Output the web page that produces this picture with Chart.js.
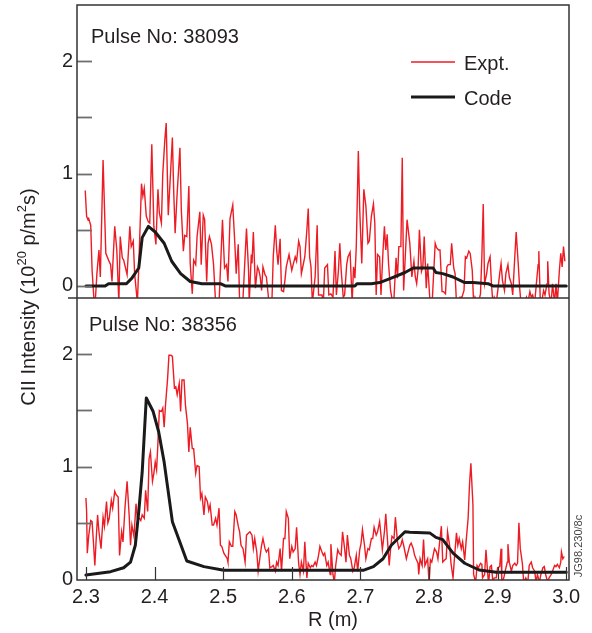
<!DOCTYPE html>
<html><head><meta charset="utf-8">
<script src="https://cdn.jsdelivr.net/npm/chart.js@4.4.1/dist/chart.umd.min.js"></script>
<style>html,body{margin:0;padding:0;background:#fff;}#wrap{width:592px;height:633px;position:relative;}</style>
</head><body><div id="wrap"><canvas id="c" width="592" height="633"></canvas></div>
<script>
// ---- data ----
const R_MIN = 2.287, R_MAX = 3.004;
const X_TICKS = [2.3, 2.4, 2.5, 2.6, 2.7, 2.8, 2.9, 3.0];
const Y_TICKS = [0, 0.5, 1, 1.5, 2];
const Y_LABELS = [0, 1, 2];
const TOP_Y_RANGE = [-0.107, 2.5];
const BOT_Y_RANGE = [-0.009, 2.5];
const PANEL_TITLES = ['Pulse No: 38093', 'Pulse No: 38356'];
const SERIES_NAMES = ['Expt.', 'Code'];

const TOP_EXPT = [[2.299,0.85],[2.301,0.62],[2.303,0.59],[2.304,0.60],[2.307,0.54],[2.309,0.14],[2.312,-0.15],[2.314,-0.10],[2.316,0.11],[2.319,0.32],[2.321,0.08],[2.325,1.12],[2.329,0.29],[2.333,0.23],[2.336,0.19],[2.338,0.04],[2.342,0.53],[2.345,0.32],[2.348,-0.15],[2.350,0.44],[2.353,0.25],[2.355,0.23],[2.360,0.10],[2.364,0.53],[2.366,0.35],[2.369,0.40],[2.371,0.11],[2.375,-0.15],[2.377,0.17],[2.381,0.91],[2.383,0.80],[2.385,0.87],[2.388,0.62],[2.391,0.57],[2.393,0.56],[2.396,1.26],[2.399,0.53],[2.402,0.37],[2.405,0.86],[2.407,0.65],[2.410,0.56],[2.412,1.00],[2.415,1.30],[2.417,1.45],[2.420,0.63],[2.423,0.97],[2.426,1.32],[2.428,0.83],[2.430,0.47],[2.433,0.83],[2.437,1.23],[2.439,0.68],[2.442,0.31],[2.444,0.45],[2.447,0.44],[2.450,0.89],[2.452,0.20],[2.455,-0.07],[2.457,0.23],[2.460,0.19],[2.462,0.44],[2.466,0.66],[2.468,0.19],[2.471,0.63],[2.473,0.59],[2.476,0.04],[2.478,0.38],[2.480,0.44],[2.483,0.37],[2.486,0.19],[2.489,-0.15],[2.491,-0.15],[2.494,-0.15],[2.496,0.14],[2.499,0.59],[2.502,0.16],[2.505,0.19],[2.507,0.04],[2.510,0.60],[2.514,0.72],[2.517,0.38],[2.519,0.11],[2.522,0.37],[2.524,-0.15],
[2.529,-0.10],[2.534,0.51],[2.537,0.14],[2.538,-0.15],[2.541,0.28],[2.542,0.20],[2.544,0.48],[2.547,-0.02],[2.550,0.17],[2.552,0.14],[2.554,0.08],[2.556,-0.04],[2.558,0.17],[2.561,0.10],[2.563,0.08],[2.566,-0.10],[2.568,-0.15],[2.571,-0.15],[2.573,0.26],[2.576,0.54],[2.578,0.32],[2.580,0.19],[2.583,0.42],[2.585,-0.04],[2.588,-0.05],[2.590,0.05],[2.592,0.17],[2.596,0.28],[2.600,0.14],[2.602,0.19],[2.605,0.26],[2.607,0.22],[2.610,0.40],[2.612,0.35],[2.614,0.11],[2.617,0.20],[2.619,0.26],[2.622,0.50],[2.624,0.69],[2.626,0.26],[2.628,0.17],[2.630,-0.15],[2.634,0.08],[2.637,0.54],[2.639,-0.08],[2.641,-0.08],[2.644,-0.08],[2.646,-0.15],[2.648,0.16],[2.652,0.19],[2.654,-0.08],[2.657,-0.07],[2.660,-0.10],[2.663,0.31],[2.665,-0.08],[2.668,0.14],[2.670,0.38],[2.672,0.14],[2.675,-0.10],[2.677,-0.08],[2.680,0.19],[2.682,0.26],[2.685,0.30],[2.688,-0.15],[2.690,0.17],[2.692,0.07],[2.694,0.35],[2.697,1.20],[2.699,0.68],[2.702,0.20],[2.705,0.86],[2.708,0.71],[2.711,0.38],[2.713,0.40],[2.716,0.62],[2.719,0.73],[2.721,0.56],[2.723,-0.08],[2.725,0.28],[2.728,0.26],[2.730,-0.08],[2.733,0.32],[2.735,0.53],[2.737,0.32],[2.739,0.46],[2.741,0.20],[2.744,-0.04],[2.747,-0.15],[2.749,-0.10],[2.752,0.25],[2.754,0.07],[2.756,0.35],[2.759,0.35],[2.761,1.14],
[2.763,-0.04],[2.768,0.59],[2.772,0.38],[2.775,0.08],[2.778,0.22],[2.780,0.08],[2.782,0.02],[2.784,0.14],[2.786,0.50],[2.789,0.13],[2.791,0.17],[2.793,0.44],[2.796,-0.02],[2.798,0.20],[2.801,-0.10],[2.803,-0.15],[2.805,-0.10],[2.809,0.38],[2.811,0.34],[2.814,0.32],[2.816,0.32],[2.819,-0.05],[2.821,-0.05],[2.824,-0.07],[2.826,0.17],[2.828,0.19],[2.831,0.19],[2.833,0.38],[2.836,0.16],[2.838,0.11],[2.840,-0.15],[2.843,-0.15],[2.845,-0.10],[2.848,-0.10],[2.851,-0.04],[2.853,0.26],[2.855,0.25],[2.858,0.31],[2.860,0.29],[2.863,0.14],[2.865,-0.15],[2.867,-0.10],[2.870,-0.15],[2.872,-0.15],[2.875,-0.07],[2.877,0.26],[2.879,0.73],[2.881,0.02],[2.884,0.11],[2.886,0.20],[2.889,0.26],[2.891,0.02],[2.893,-0.15],[2.895,-0.10],[2.898,-0.15],[2.900,-0.05],[2.903,0.11],[2.905,0.20],[2.907,0.05],[2.910,-0.04],[2.912,0.11],[2.915,0.19],[2.917,0.08],[2.920,0.02],[2.922,-0.08],[2.925,0.26],[2.927,0.48],[2.930,0.20],[2.932,-0.01],[2.934,-0.15],[2.937,-0.15],[2.939,-0.15],[2.942,-0.10],[2.944,-0.15],[2.947,-0.05],[2.949,-0.10],[2.951,-0.08],[2.954,-0.15],[2.956,-0.01],[2.959,0.19],[2.960,0.31],[2.962,-0.10],[2.964,-0.15],[2.967,-0.04],[2.969,-0.08],[2.972,0.02],[2.973,0.22],[2.975,-0.07],[2.978,-0.15],[2.980,0.02],[2.983,-0.15],[2.985,0.02],[2.987,-0.15],[2.990,0.14],[2.992,0.29],[2.994,0.17],[2.996,0.35],[2.998,0.22]];

const TOP_CODE = [[2.300,0],[2.328,0],[2.333,0.02],[2.359,0.02],[2.367,0.07],[2.377,0.16],[2.382,0.43],[2.391,0.53],[2.401,0.48],[2.414,0.38],[2.425,0.22],[2.438,0.11],[2.452,0.04],[2.469,0.02],[2.496,0.02],[2.503,0],[2.692,0],[2.695,0.02],[2.716,0.02],[2.728,0.03],[2.745,0.07],[2.765,0.12],[2.777,0.16],[2.806,0.16],[2.810,0.12],[2.820,0.11],[2.835,0.08],[2.852,0.03],[2.864,0.03],[2.886,0.02],[2.893,0],[3.000,0]];

const BOT_EXPT = [[2.300,0.72],[2.301,0.60],[2.302,0.23],[2.304,0.38],[2.307,0.52],[2.309,0.51],[2.311,0.32],[2.313,0.12],[2.315,0.36],[2.317,0.57],[2.319,0.42],[2.322,0.27],[2.325,0.55],[2.327,0.47],[2.330,0.69],[2.332,0.50],[2.334,0.54],[2.337,0.70],[2.339,0.63],[2.342,0.78],[2.344,0.75],[2.347,0.73],[2.349,0.21],[2.352,0.42],[2.354,0.33],[2.357,0.64],[2.360,0.87],[2.363,0.57],[2.365,0.30],[2.367,0.48],[2.370,0.38],[2.373,0.67],[2.375,0.54],[2.378,0.54],[2.380,0.52],[2.382,0.57],[2.385,0.54],[2.387,0.79],[2.390,0.60],[2.392,1.07],[2.394,1.13],[2.397,0.87],[2.399,0.94],[2.401,1.04],[2.403,0.97],[2.405,1.22],[2.407,1.50],[2.410,1.49],[2.412,1.52],[2.414,1.35],[2.416,1.55],[2.419,1.78],[2.421,1.99],[2.424,1.99],[2.426,1.98],[2.429,1.70],[2.431,1.71],[2.433,1.64],[2.436,1.74],[2.438,1.49],[2.440,1.77],[2.443,1.77],[2.445,1.55],[2.448,1.38],[2.450,1.13],[2.452,1.35],[2.455,1.16],[2.457,1.16],[2.460,0.94],[2.462,1.01],[2.465,1.00],[2.467,0.72],[2.469,0.76],[2.472,0.57],[2.474,0.73],[2.477,0.69],[2.479,0.61],[2.481,0.66],[2.484,0.48],[2.486,0.48],[2.489,0.54],[2.491,0.48],[2.494,0.63],[2.496,0.30],[2.498,0.29],[2.501,0.23],[2.503,0.21],[2.506,0.18],[2.507,0.15],[2.509,0.33],[2.512,0.29],[2.514,0.29],[2.517,0.60],[2.519,0.57],[2.522,0.47],[2.524,0.42],[2.526,0.30],
[2.529,0.27],[2.532,0.15],[2.534,0.39],[2.537,0.41],[2.539,0.42],[2.542,0.39],[2.544,0.27],[2.546,0.36],[2.549,0.24],[2.551,0.07],[2.554,0.21],[2.556,0.30],[2.558,0.36],[2.561,0.27],[2.563,0.24],[2.566,0.27],[2.568,0.10],[2.571,0.11],[2.573,0.12],[2.576,0.07],[2.578,0.15],[2.580,0.12],[2.583,0.27],[2.585,0.07],[2.588,0.36],[2.590,0.36],[2.592,0.60],[2.595,0.54],[2.597,0.18],[2.600,0.29],[2.602,0.24],[2.605,0.27],[2.607,0.46],[2.610,0.14],[2.612,0.04],[2.614,0.15],[2.617,0.07],[2.619,0.33],[2.622,0.01],[2.624,0.14],[2.627,0.10],[2.629,0.12],[2.631,0.11],[2.634,0.15],[2.636,0.12],[2.639,0.21],[2.641,0.29],[2.644,0.24],[2.646,0.21],[2.648,0.23],[2.651,0.12],[2.653,0.15],[2.656,0.04],[2.657,0.31],[2.660,0.04],[2.662,-0.03],[2.664,0.12],[2.667,0.26],[2.669,0.23],[2.672,0.21],[2.674,0.42],[2.677,0.27],[2.679,0.15],[2.681,0.39],[2.684,0.21],[2.686,0.18],[2.689,0.07],[2.691,0.10],[2.694,0.21],[2.696,0.07],[2.699,0.26],[2.701,0.32],[2.703,0.44],[2.706,0.30],[2.708,0.18],[2.711,0.27],[2.713,0.26],[2.716,0.36],[2.718,0.36],[2.720,0.46],[2.723,0.39],[2.725,0.42],[2.728,0.51],[2.730,0.39],[2.732,0.26],[2.735,0.42],[2.737,0.58],[2.739,0.39],[2.742,0.12],[2.744,0.27],[2.746,0.38],[2.749,0.36],[2.751,0.55],[2.754,0.33],[2.756,0.27],[2.759,0.30],[2.761,0.35],[2.763,0.30],
[2.767,0.18],[2.769,0.23],[2.772,0.30],[2.774,0.32],[2.777,0.27],[2.779,0.21],[2.781,0.18],[2.784,0.14],[2.785,0.04],[2.787,0.18],[2.790,0.12],[2.792,0.35],[2.794,0.12],[2.796,0.15],[2.798,0.18],[2.800,-0.03],[2.802,0.17],[2.804,0.15],[2.806,0.21],[2.808,0.27],[2.811,0.24],[2.813,0.18],[2.815,0.30],[2.818,0.47],[2.820,0.15],[2.823,0.17],[2.825,0.18],[2.827,0.42],[2.830,0.30],[2.832,0.14],[2.835,0.01],[2.837,0.18],[2.840,0.41],[2.842,0.30],[2.844,0.36],[2.847,0.27],[2.849,0.33],[2.852,0.17],[2.854,0.33],[2.857,0.54],[2.859,0.84],[2.861,1.03],[2.864,0.66],[2.865,0.04],[2.868,-0.03],[2.870,0.12],[2.872,0.10],[2.875,0.14],[2.877,0.13],[2.878,0.01],[2.881,0.04],[2.883,0.26],[2.886,0.01],[2.887,-0.03],[2.889,0.11],[2.891,0.12],[2.893,-0.03],[2.895,0.01],[2.898,0.01],[2.900,0.10],[2.903,0.11],[2.905,0.27],[2.906,-0.03],[2.909,0.01],[2.911,0.07],[2.914,0.15],[2.915,0.31],[2.917,0.15],[2.920,0.07],[2.922,0.12],[2.925,0.14],[2.927,0.12],[2.929,0.14],[2.931,0.50],[2.933,0.27],[2.936,0.14],[2.938,-0.03],[2.941,0.01],[2.944,-0.03],[2.946,0.12],[2.949,0.15],[2.951,0.10],[2.954,0.07],[2.956,-0.03],[2.958,0.04],[2.961,-0.03],[2.963,0.04],[2.966,0.10],[2.968,0.11],[2.970,0.04],[2.973,-0.03],[2.975,0.01],[2.978,0.04],[2.980,0.07],[2.983,0.12],[2.985,0.11],[2.987,0.13],[2.990,0.10],[2.992,0.15],[2.993,0.24],[2.995,0.18],[2.997,0.20]];

const BOT_CODE = [[2.300,0.035],[2.336,0.065],[2.355,0.10],[2.365,0.15],[2.372,0.30],[2.377,0.60],[2.382,0.95],[2.388,1.61],[2.398,1.49],[2.406,1.31],[2.414,1.04],[2.426,0.51],[2.435,0.36],[2.447,0.16],[2.472,0.11],[2.501,0.077],[2.704,0.077],[2.719,0.11],[2.733,0.18],[2.745,0.30],[2.765,0.42],[2.772,0.415],[2.801,0.41],[2.810,0.37],[2.820,0.35],[2.835,0.23],[2.852,0.14],[2.873,0.08],[2.898,0.06],[3.000,0.06]];

// ---- styling ----
const FONT = '"Liberation Sans", Arial, Helvetica, sans-serif';
const TXT = '#231f20';
const RED = '#ed1c24';
const BLK = '#1a1a1a';
const toXY = a => a.map(p => ({x: p[0], y: p[1]}));

const decor = {
  id: 'decor',
  beforeDatasetDraw(chart, args) {
    const ys = chart.scales[args.meta.yAxisID];
    const ca = chart.chartArea, ctx = chart.ctx;
    ctx.save();
    ctx.beginPath();
    ctx.rect(ca.left, ys.top, ca.right - ca.left, ys.bottom - ys.top);
    ctx.clip();
  },
  afterDatasetDraw(chart) { chart.ctx.restore(); },
  afterDraw(chart) {
    const ctx = chart.ctx, ca = chart.chartArea;
    const xs = chart.scales.x, yt = chart.scales.yTop, yb = chart.scales.yBot;
    ctx.save();
    // inward y ticks
    ctx.strokeStyle = '#6d6e70'; ctx.lineWidth = 1.8;
    [yt, yb].forEach(s => Y_TICKS.forEach(v => {
      const y = Math.round(s.getPixelForValue(v)) + 0.5;
      if (y > s.bottom - 1) return;
      ctx.beginPath(); ctx.moveTo(ca.left, y); ctx.lineTo(ca.left + 15, y); ctx.stroke();
    }));
    // inward x ticks (bottom panel)
    ctx.strokeStyle = '#333'; ctx.lineWidth = 1.2;
    X_TICKS.forEach(v => {
      const x = Math.round(xs.getPixelForValue(v)) + 0.5;
      ctx.beginPath(); ctx.moveTo(x, ca.bottom); ctx.lineTo(x, ca.bottom - 13); ctx.stroke();
    });
    // frame and divider
    ctx.strokeStyle = '#333'; ctx.lineWidth = 1.5;
    ctx.strokeRect(ca.left, ca.top, ca.right - ca.left, ca.bottom - ca.top);
    ctx.beginPath(); ctx.moveTo(ca.left - 9, yt.bottom); ctx.lineTo(ca.right, yt.bottom); ctx.stroke();
    // panel titles
    ctx.fillStyle = TXT; ctx.font = '20px ' + FONT; ctx.textBaseline = 'middle'; ctx.textAlign = 'left';
    ctx.fillText(PANEL_TITLES[0], 91, 37);
    ctx.fillText(PANEL_TITLES[1], 89, 325);
    // legend
    const ds = chart.data.datasets;
    [[ds[1], 62], [ds[0], 97]].forEach(([d, y]) => {
      ctx.strokeStyle = d.borderColor; ctx.lineWidth = d.borderWidth;
      ctx.beginPath(); ctx.moveTo(411, y); ctx.lineTo(455, y); ctx.stroke();
      ctx.fillText(d.label, 464, y + 2);
    });
    // x title
    ctx.textAlign = 'center';
    ctx.fillText('R (m)', 333, 620);
    // y title with superscripts
    ctx.save();
    ctx.translate(28, 297); ctx.rotate(-Math.PI / 2);
    const parts = [['CII Intensity (10', 0], ['20', 1], [' p/m', 0], ['2', 1], ['s)', 0]];
    let total = 0;
    parts.forEach(p => { ctx.font = (p[1] ? '13px ' : '20px ') + FONT; total += ctx.measureText(p[0]).width; });
    let cx = -total / 2;
    ctx.textAlign = 'left';
    parts.forEach(p => {
      ctx.font = (p[1] ? '13px ' : '20px ') + FONT;
      ctx.fillText(p[0], cx, p[1] ? -6 : 1);
      cx += ctx.measureText(p[0]).width;
    });
    ctx.restore();
    // figure code
    ctx.save();
    ctx.translate(579, 546); ctx.rotate(-Math.PI / 2);
    ctx.font = '11px ' + FONT; ctx.fillStyle = '#444'; ctx.textAlign = 'center';
    ctx.fillText('JG98.230/8c', 0, 0);
    ctx.restore();
    ctx.restore();
  }
};

const yScale = (range, weight) => ({
  type: 'linear', position: 'left', stack: 'panels', stackWeight: weight,
  min: range[0], max: range[1],
  grid: {display: false, drawTicks: false}, border: {display: false},
  ticks: {font: {size: 20, family: FONT}, color: TXT, padding: 4, callback: v => String(v)},
  afterBuildTicks: s => { s.ticks = Y_LABELS.map(v => ({value: v})); },
  afterFit: s => { s.width = 77; s.paddingTop = 0; s.paddingBottom = 0; }
});

new Chart(document.getElementById('c'), {
  type: 'line',
  data: {
    datasets: [
      {label: SERIES_NAMES[1], data: toXY(TOP_CODE), yAxisID: 'yTop', borderColor: BLK, borderWidth: 3, borderJoinStyle: 'round', borderCapStyle: 'round'},
      {label: SERIES_NAMES[0], data: toXY(TOP_EXPT), yAxisID: 'yTop', borderColor: RED, borderWidth: 1.4},
      {label: SERIES_NAMES[1], data: toXY(BOT_CODE), yAxisID: 'yBot', borderColor: BLK, borderWidth: 3, borderJoinStyle: 'round', borderCapStyle: 'round'},
      {label: SERIES_NAMES[0], data: toXY(BOT_EXPT), yAxisID: 'yBot', borderColor: RED, borderWidth: 1.4}
    ]
  },
  options: {
    responsive: false, animation: false, devicePixelRatio: 1,
    layout: {padding: {top: 5, right: 23, left: 0, bottom: 0}},
    elements: {point: {radius: 0}, line: {tension: 0}},
    plugins: {legend: {display: false}, tooltip: {enabled: false}},
    scales: {
      x: {
        type: 'linear', min: R_MIN, max: R_MAX,
        grid: {display: false, drawTicks: false}, border: {display: false},
        ticks: {font: {size: 20, family: FONT}, color: TXT, padding: 5, maxRotation: 0, callback: v => v.toFixed(1)},
        afterBuildTicks: s => { s.ticks = X_TICKS.map(v => ({value: v})); },
        afterFit: s => { s.height = 53; s.paddingLeft = 0; s.paddingRight = 0; }
      },
      yBot: yScale(BOT_Y_RANGE, 282),
      yTop: yScale(TOP_Y_RANGE, 293)
    }
  },
  plugins: [decor]
});
</script></body></html>
